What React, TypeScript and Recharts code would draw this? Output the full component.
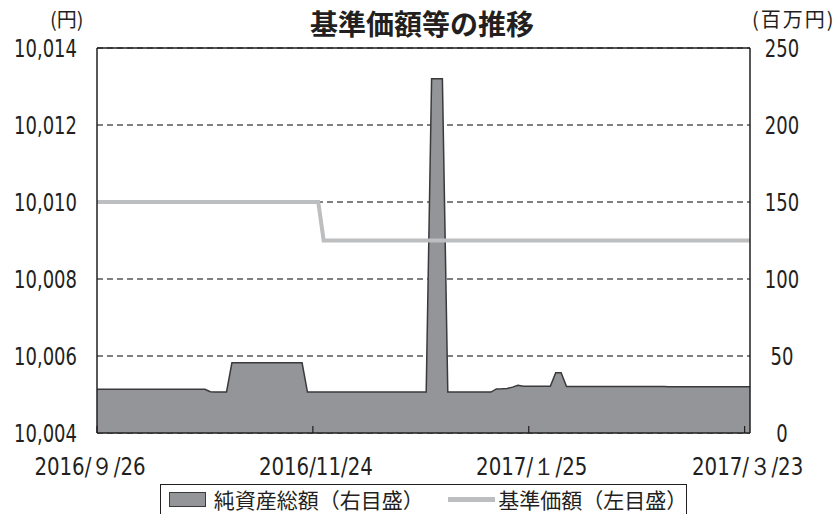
import { Area, CartesianGrid, ComposedChart, Line, ReferenceLine, XAxis, YAxis } from "recharts";

// business-day index 0 = 2016/9/26
const DATE_TICKS = [0, 40, 80, 120];
const DATE_LABELS = ["2016/９/26", "2016/11/24", "2017/１/25", "2017/３/23"];

const NAV_TICKS = [10004, 10006, 10008, 10010, 10012, 10014];
const ASSET_TICKS = [0, 50, 100, 150, 200, 250];

// 基準価額 (円)
const nav = [
  10010, 10010, 10010, 10010, 10010, 10010, 10010, 10010, 10010, 10010,
  10010, 10010, 10010, 10010, 10010, 10010, 10010, 10010, 10010, 10010,
  10010, 10010, 10010, 10010, 10010, 10010, 10010, 10010, 10010, 10010,
  10010, 10010, 10010, 10010, 10010, 10010, 10010, 10010, 10010, 10010,
  10010, 10010, 10009, 10009, 10009, 10009, 10009, 10009, 10009, 10009,
  10009, 10009, 10009, 10009, 10009, 10009, 10009, 10009, 10009, 10009,
  10009, 10009, 10009, 10009, 10009, 10009, 10009, 10009, 10009, 10009,
  10009, 10009, 10009, 10009, 10009, 10009, 10009, 10009, 10009, 10009,
  10009, 10009, 10009, 10009, 10009, 10009, 10009, 10009, 10009, 10009,
  10009, 10009, 10009, 10009, 10009, 10009, 10009, 10009, 10009, 10009,
  10009, 10009, 10009, 10009, 10009, 10009, 10009, 10009, 10009, 10009,
  10009, 10009, 10009, 10009, 10009, 10009, 10009, 10009, 10009, 10009,
  10009, 10009,
];

// 純資産総額 (百万円)
const assets = [
  28.4, 28.4, 28.4, 28.4, 28.4, 28.4, 28.4, 28.4, 28.4, 28.4,
  28.4, 28.4, 28.4, 28.4, 28.4, 28.4, 28.4, 28.4, 28.4, 28.4,
  28.4, 26.8, 26.7, 26.7, 26.7, 45.6, 45.6, 45.6, 45.6, 45.6,
  45.6, 45.6, 45.6, 45.6, 45.6, 45.6, 45.6, 45.6, 45.6, 26.6,
  26.6, 26.6, 26.6, 26.6, 26.6, 26.6, 26.6, 26.6, 26.6, 26.6,
  26.6, 26.6, 26.6, 26.6, 26.6, 26.6, 26.6, 26.6, 26.6, 26.6,
  26.6, 26.6, 230, 230, 230, 26.6, 26.6, 26.6, 26.6, 26.6,
  26.6, 26.6, 26.6, 26.6, 28.6, 28.7, 28.9, 29.8, 31.0, 30.3,
  30.4, 30.4, 30.4, 30.4, 30.4, 39.2, 39.2, 30.2, 30.2, 30.2,
  30.2, 30.2, 30.2, 30.2, 30.2, 30.2, 30.2, 30.2, 30.2, 30.2,
  30.2, 30.2, 30.2, 30.2, 30.2, 30.2, 30.1, 30.1, 30.1, 30.1,
  30.1, 30.1, 30.1, 30.1, 30.1, 30.1, 30.0, 30.0, 30.0, 30.0,
  30.0, 30.0,
];

const data = nav.map((v, i) => ({ day: i, nav: v, assets: assets[i] }));

const NUM_FONT = '"Liberation Sans Narrow", "DejaVu Sans Condensed", sans-serif';
const JP_FONT = '"Noto Sans CJK JP", sans-serif';
const INK = "#231f20";

const fmtNav = (v: number) => v.toLocaleString("en-US");

// condensed number text, squeezed horizontally like the original's narrow gothic
function NarrowText({ x, y, anchor, squeeze = 0.8, children }: any) {
  return (
    <text
      transform={`translate(${x},${y}) scale(${squeeze},1)`}
      textAnchor={anchor}
      fontSize={25}
      fontFamily={NUM_FONT}
      fill={INK}
    >
      {children}
    </text>
  );
}

function LeftTick({ x, y, payload }: any) {
  return <NarrowText x={x} y={y + 9} anchor="end">{fmtNav(payload.value)}</NarrowText>;
}

function RightTick({ x, y, payload }: any) {
  return <NarrowText x={x} y={y + 9} anchor="middle">{payload.value}</NarrowText>;
}

function DateTick({ x, y, payload }: any) {
  const i = DATE_TICKS.indexOf(payload.value);
  return (
    <g>
      <line x1={x} y1={y} x2={x} y2={y - 7} stroke={INK} strokeWidth={1.2} />
      <NarrowText x={x + (i === 0 ? -7 : 3)} y={y + 42} anchor="middle" squeeze={0.88}>
        {DATE_LABELS[i]}
      </NarrowText>
    </g>
  );
}

export default function App() {
  return (
    <div style={{ position: "absolute", left: 0, top: 0, width: 839, height: 514, overflow: "hidden", background: "#fff" }}>
      <div style={{ position: "absolute", left: 0, width: 844, top: 6, textAlign: "center", fontFamily: JP_FONT, fontWeight: 700, fontSize: 28, lineHeight: "34px", color: INK }}>
        基準価額等の推移
      </div>
      <div style={{ position: "absolute", left: 50, top: 7, fontFamily: JP_FONT, fontSize: 20, lineHeight: "24px", color: INK }}>
        (円)
      </div>
      <div style={{ position: "absolute", left: 752, top: 7, fontFamily: JP_FONT, fontSize: 20, lineHeight: "24px", letterSpacing: 2, color: INK }}>
        (百万円)
      </div>

      <ComposedChart width={839} height={514} data={data} margin={{ top: 48, right: 0, bottom: 51, left: 0 }}>
        <CartesianGrid yAxisId="nav" vertical={false} stroke="#000" strokeDasharray="6 4" strokeWidth={1} />
        <XAxis
          dataKey="day"
          type="number"
          domain={[0, 121]}
          ticks={DATE_TICKS}
          height={30}
          tickSize={0}
          tickMargin={0}
          tick={<DateTick />}
          axisLine={{ stroke: INK, strokeWidth: 1.5 }}
          interval={0}
        />
        <YAxis
          yAxisId="nav"
          width={97}
          domain={[10004, 10014]}
          ticks={NAV_TICKS}
          tickSize={0}
          tickMargin={20}
          tick={<LeftTick />}
          axisLine={{ stroke: INK, strokeWidth: 1.5 }}
          tickLine={false}
          interval={0}
        />
        <YAxis
          yAxisId="assets"
          orientation="right"
          width={89}
          domain={[0, 250]}
          ticks={ASSET_TICKS}
          tickSize={0}
          tickMargin={32}
          tick={<RightTick />}
          axisLine={{ stroke: INK, strokeWidth: 1.5 }}
          tickLine={false}
          interval={0}
        />
        <Line
          yAxisId="nav"
          dataKey="nav"
          type="linear"
          stroke="#bcbec0"
          strokeWidth={4}
          dot={false}
          isAnimationActive={false}
        />
        <Area
          yAxisId="assets"
          dataKey="assets"
          type="linear"
          stroke="#3a3a3c"
          strokeWidth={1.5}
          fill="#939598"
          fillOpacity={1}
          isAnimationActive={false}
        />
        <ReferenceLine yAxisId="nav" y={10014} stroke={INK} strokeWidth={1.5} />
      </ComposedChart>

      <div
        style={{
          position: "absolute",
          left: 160,
          top: 484,
          width: 527,
          height: 40,
          border: `1.5px solid ${INK}`,
          display: "flex",
          alignItems: "flex-start",
          paddingTop: 1,
          fontFamily: JP_FONT,
          fontSize: 21,
          lineHeight: "27px",
          color: INK,
          boxSizing: "border-box",
        }}
      >
        <span style={{ display: "inline-block", width: 37, height: 15, marginLeft: 8, marginTop: 6, background: "#939598", border: "1.5px solid #3a3a3c", boxSizing: "border-box" }} />
        <span style={{ marginLeft: 8 }}>純資産総額（右目盛）</span>
        <span style={{ display: "inline-block", width: 47, height: 5, marginLeft: 26, marginTop: 11, background: "#bcbec0" }} />
        <span style={{ marginLeft: 3 }}>基準価額（左目盛）</span>
      </div>
    </div>
  );
}
